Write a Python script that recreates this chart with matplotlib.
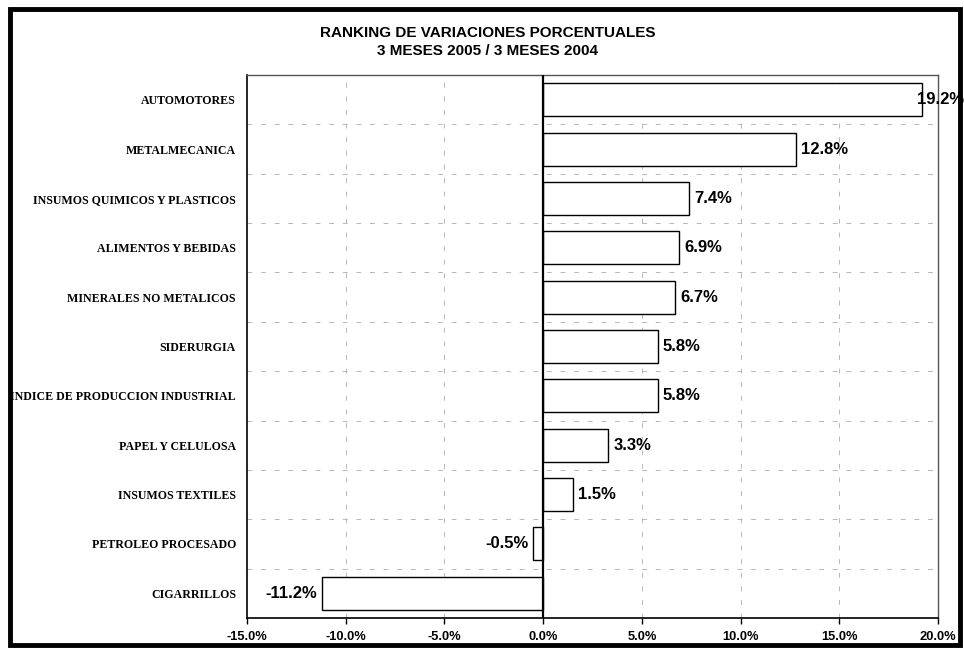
import numpy as np
import matplotlib.pyplot as plt
from matplotlib.patches import Rectangle
from matplotlib.font_manager import FontProperties

sectors = ['AUTOMOTORES', 'METALMECANICA', 'INSUMOS QUIMICOS Y PLASTICOS',
           'ALIMENTOS Y BEBIDAS', 'MINERALES NO METALICOS', 'SIDERURGIA',
           'INDICE DE PRODUCCION INDUSTRIAL', 'PAPEL Y CELULOSA',
           'INSUMOS TEXTILES', 'PETROLEO PROCESADO', 'CIGARRILLOS']
variation = [19.2, 12.8, 7.4, 6.9, 6.7, 5.8, 5.8, 3.3, 1.5, -0.5, -11.2]
x_ticks = [-15, -10, -5, 0, 5, 10, 15, 20]

sans = lambda s: FontProperties(family='Liberation Sans', weight='bold', size=s)
serif = FontProperties(family='Liberation Serif', weight='bold', size=8.6)

fig = plt.figure(figsize=(9.64, 6.5), dpi=100)
ax = fig.add_axes([247 / 964, 1 - 618 / 650, (938 - 247) / 964, (618 - 75) / 650])

y = np.arange(len(sectors))
ax.barh(y, variation, height=0.67, color='white', edgecolor='black',
        linewidth=1.0, zorder=3)

for yi, v in zip(y, variation):
    if v >= 17:
        # Excel pulls the label back so it stays inside the chart
        ax.text(v - 0.25, yi, f'{v:.1f}%', ha='left', va='center',
                fontproperties=sans(12), zorder=4, clip_on=False)
    elif v >= 0:
        ax.text(v + 0.25, yi, f'{v:.1f}%', ha='left', va='center',
                fontproperties=sans(12), zorder=4)
    else:
        ax.text(v - 0.25, yi, f'{v:.1f}%', ha='right', va='center',
                fontproperties=sans(12), zorder=4)

ax.set_xlim(-15, 20)
ax.set_ylim(len(sectors) - 0.5, -0.5)
ax.set_xticks(x_ticks)
ax.set_xticklabels([f'{t:.1f}%' for t in x_ticks], fontproperties=sans(9.3))
ax.set_yticks(y)
ax.set_yticklabels(sectors, fontproperties=serif)
ax.tick_params(axis='y', length=0, pad=8)
ax.tick_params(axis='x', length=4, direction='out', width=1, pad=5)

# dashed grid: verticals at ticks, horizontals between categories
for t in x_ticks[1:-1]:
    ax.axvline(t, color='#b8b8b8', linestyle=(0, (5, 9)), linewidth=0.7, zorder=1)
for b in np.arange(0.5, len(sectors) - 1, 1):
    ax.axhline(b, color='#b8b8b8', linestyle=(0, (5, 9)), linewidth=0.7, zorder=1)

ax.axvline(0, color='black', linewidth=1.6, zorder=5)

for side in ['top', 'right']:
    ax.spines[side].set_color('#555555')
    ax.spines[side].set_linewidth(1.0)
ax.spines['left'].set_linewidth(1.2)
ax.spines['bottom'].set_linewidth(1.2)

fig.text(0.506, 1 - 33 / 650, 'RANKING DE VARIACIONES PORCENTUALES',
         ha='center', va='center', fontproperties=sans(11))
fig.text(0.506, 1 - 51 / 650, '3 MESES 2005 / 3 MESES 2004',
         ha='center', va='center', fontproperties=sans(11))

# thick outer frame
fig.patches.append(Rectangle((10 / 964, 5 / 650), 950 / 964, 636 / 650,
                             transform=fig.transFigure, fill=False,
                             edgecolor='black', linewidth=3.5))

fig.savefig('out.png', dpi=100)
